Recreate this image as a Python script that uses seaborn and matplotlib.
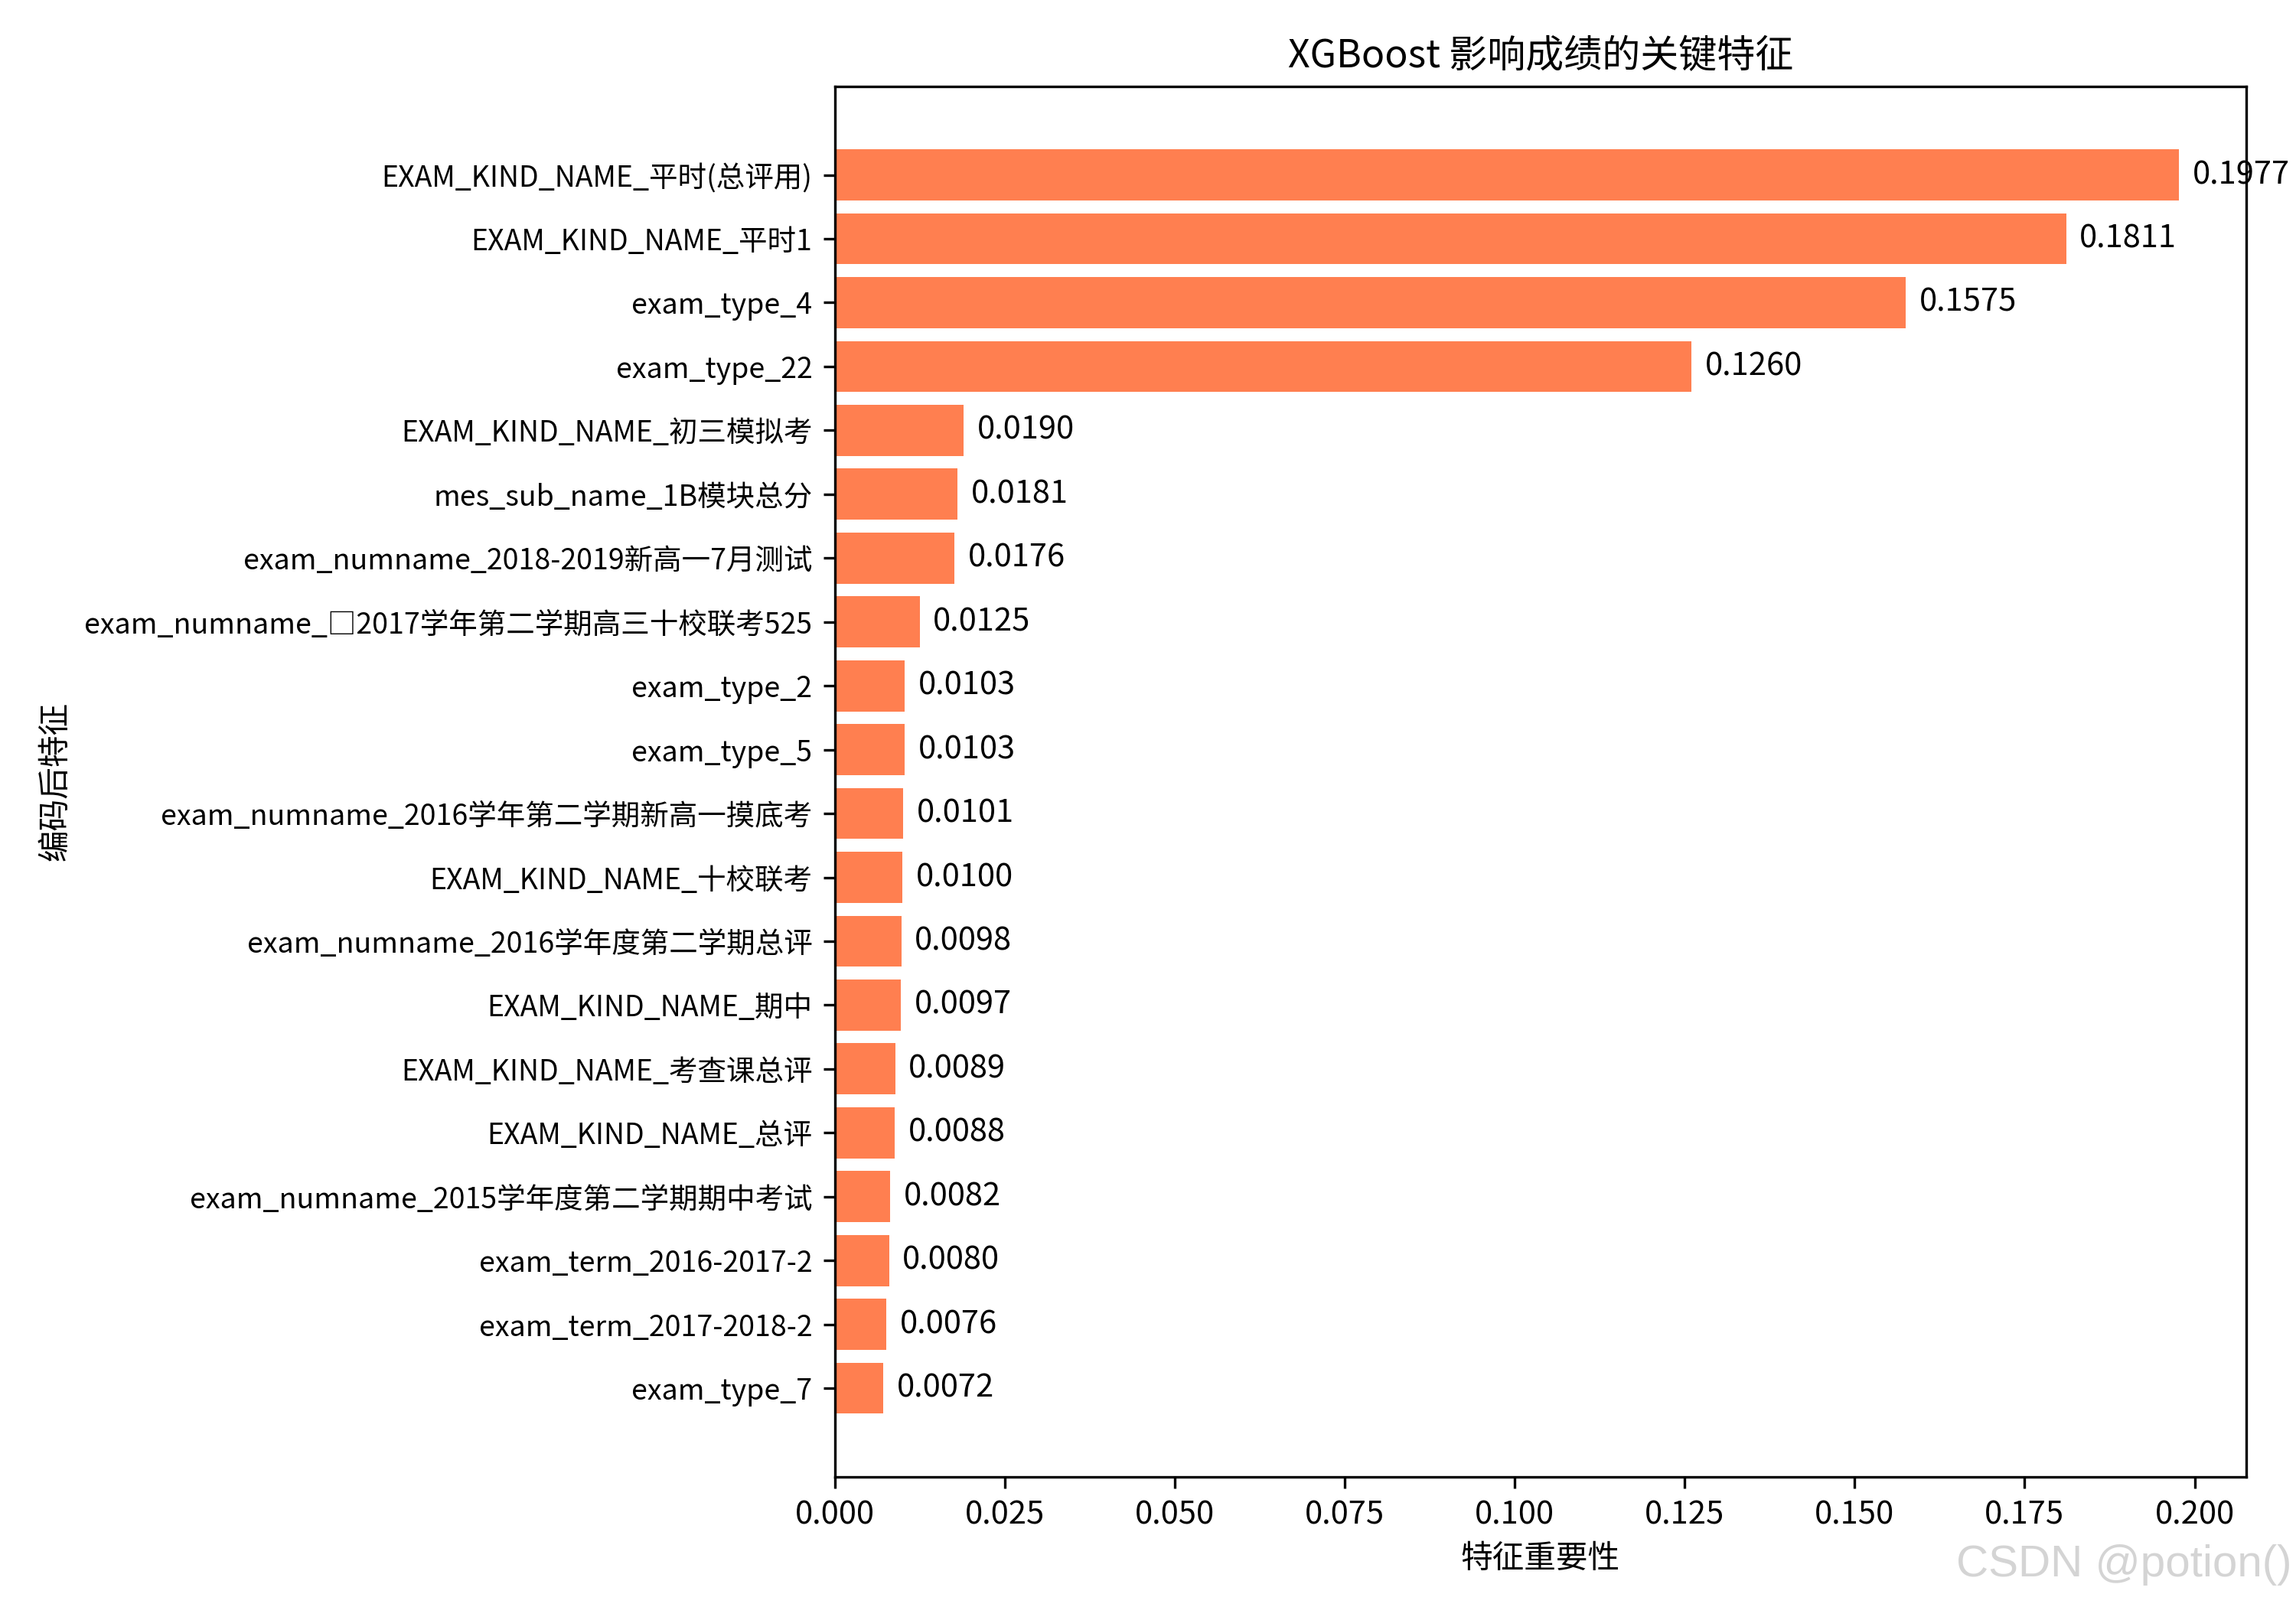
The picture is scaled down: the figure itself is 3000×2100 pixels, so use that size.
"""
XGBoost feature importance chart (top 20 encoded features).
"""

import matplotlib
matplotlib.use('Agg')
import matplotlib.pyplot as plt
import seaborn as sns
import pandas as pd

features = [
    'EXAM_KIND_NAME_平时(总评用)',
    'EXAM_KIND_NAME_平时1',
    'exam_type_4',
    'exam_type_22',
    'EXAM_KIND_NAME_初三模拟考',
    'mes_sub_name_1B模块总分',
    'exam_numname_2018-2019新高一7月测试',
    'exam_numname_□2017学年第二学期高三十校联考525',
    'exam_type_2',
    'exam_type_5',
    'exam_numname_2016学年第二学期新高一摸底考',
    'EXAM_KIND_NAME_十校联考',
    'exam_numname_2016学年度第二学期总评',
    'EXAM_KIND_NAME_期中',
    'EXAM_KIND_NAME_考查课总评',
    'EXAM_KIND_NAME_总评',
    'exam_numname_2015学年度第二学期期中考试',
    'exam_term_2016-2017-2',
    'exam_term_2017-2018-2',
    'exam_type_7',
]
importances = [
    0.1977, 0.1811, 0.1575, 0.1260, 0.0190, 0.0181, 0.0176, 0.0125, 0.0103, 0.0103,
    0.0101, 0.0100, 0.0098, 0.0097, 0.0089, 0.0088, 0.0082, 0.0080, 0.0076, 0.0072,
]

df = pd.DataFrame({'feature': features, 'importance': importances})

plt.rcParams['font.family'] = ['Noto Sans CJK SC', 'DejaVu Sans']
plt.rcParams['axes.unicode_minus'] = False

fig, ax = plt.subplots(figsize=(10, 7), dpi=300)
sns.barplot(data=df, x='importance', y='feature', orient='h', color='coral',
            saturation=1, width=0.8, linewidth=0, ax=ax)

# value labels next to each bar
for i, v in enumerate(df['importance']):
    ax.text(v + 0.002, i, f'{v:.4f}', va='center', ha='left', fontsize=10)

# matplotlib-like margins instead of seaborn's categorical limits
n = len(df)
pad = 0.05 * (n - 1 + 0.8)
ax.set_ylim(n - 1 + 0.4 + pad, -0.4 - pad)
ax.set_xlim(0, df['importance'].max() * 1.05)

# slightly smaller so the long labels fit like the original
ax.tick_params(axis='y', labelsize=9)

ax.set_title('XGBoost 影响成绩的关键特征', fontsize=12)
ax.set_xlabel('特征重要性')
ax.set_ylabel('编码后特征')

fig.text(0.998, 0.026, 'CSDN @potion()', ha='right', va='center',
         fontsize=14, color='#d4d4d4', family=['Liberation Sans', 'DejaVu Sans'])

plt.subplots_adjust(left=0.3635, right=0.9783, top=0.9464, bottom=0.0809)
plt.savefig('out.png', dpi=300)
plt.close()
